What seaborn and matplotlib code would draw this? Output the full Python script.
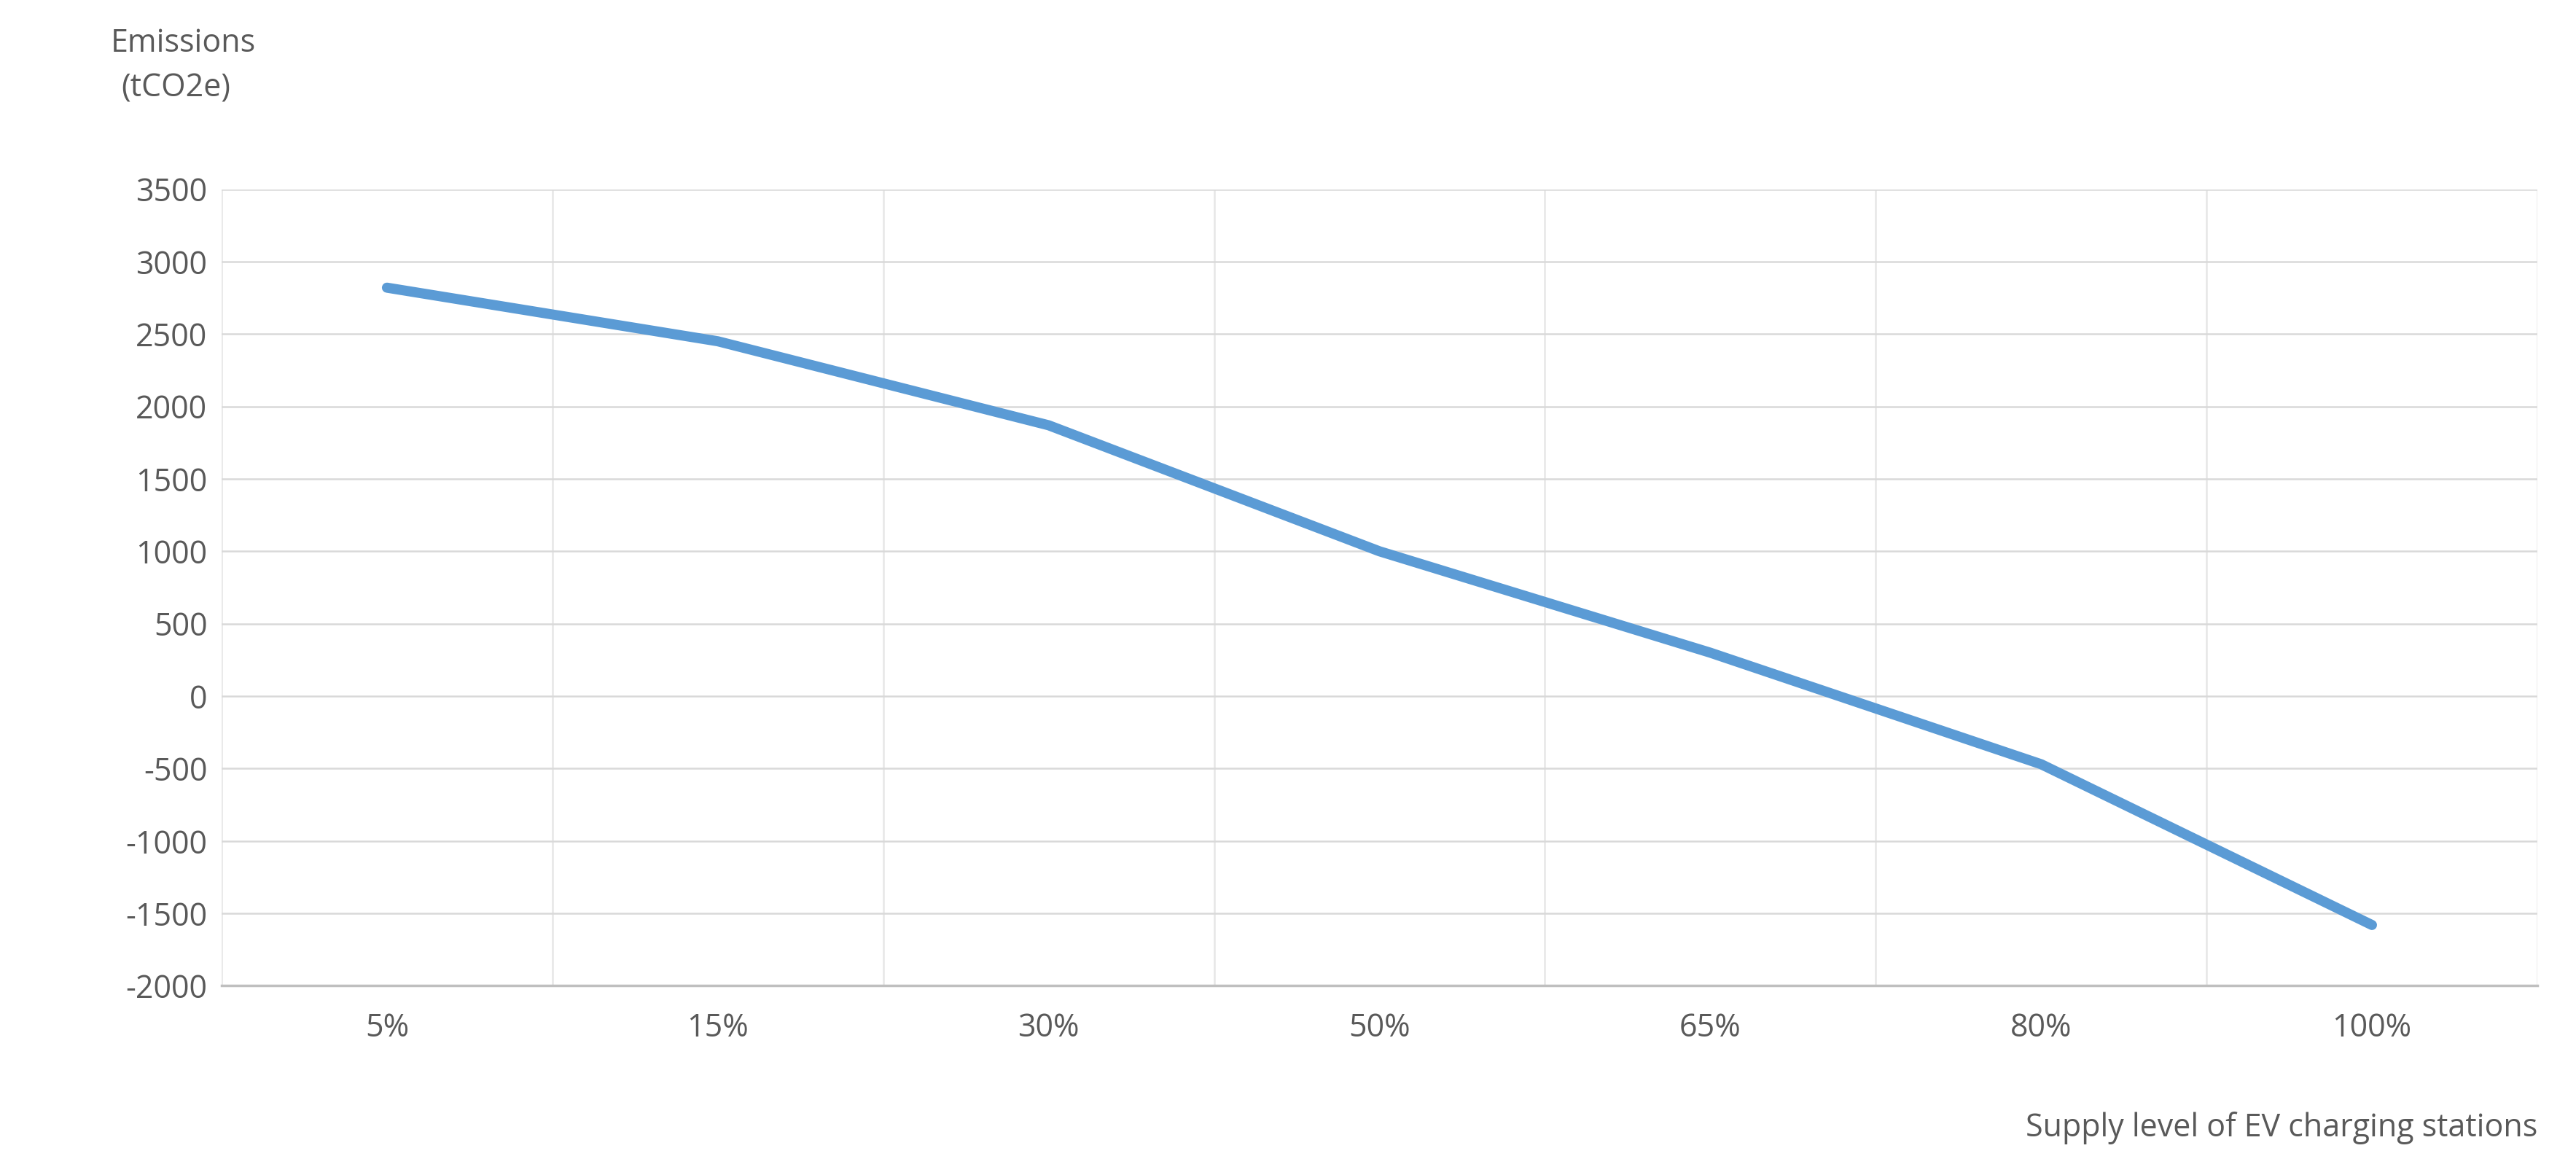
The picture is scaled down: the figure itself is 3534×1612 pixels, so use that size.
import matplotlib
matplotlib.use("Agg")
import matplotlib.pyplot as plt
import seaborn as sns
import pandas as pd
import numpy as np

categories = ["5%", "15%", "30%", "50%", "65%", "80%", "100%"]
emissions = [2820, 2450, 1870, 1000, 300, -470, -1580]

sns.set_style("white")
plt.rcParams['font.family'] = ['Open Sans', 'DejaVu Sans']
plt.rcParams['axes.unicode_minus'] = False
df = pd.DataFrame({"x": np.arange(len(categories)), "y": emissions})

fig = plt.figure(figsize=(35.34, 16.12), dpi=100)
ax = fig.add_axes([0.086, 0.161, 0.899, 0.678])
sns.lineplot(data=df, x="x", y="y", ax=ax, color="#5B9BD5", linewidth=10,
             solid_capstyle="round", solid_joinstyle="round", zorder=3)
ax.set_xlim(-0.5, len(categories) - 0.5)
ax.set_ylim(-2000, 3500)
ax.set_yticks(np.arange(-2000, 3501, 500))
ax.set_xticks(np.arange(len(categories)))
ax.set_xticklabels(categories)
ax.set_xticks(np.arange(-0.5, len(categories), 0.5), minor=True)
ax.grid(True, axis="y", color="#D9D9D9", linewidth=1.8)
ax.grid(True, axis="x", which="minor", color="#E6E6E6", linewidth=1.8)
ax.tick_params(axis="both", which="both", length=0, labelsize=31, colors="#595959")
ax.tick_params(axis="x", pad=26)
ax.tick_params(axis="y", pad=14)
for s in ["top", "right", "left"]:
    ax.spines[s].set_visible(False)
ax.spines["bottom"].set_color("#BFBFBF")
ax.spines["bottom"].set_linewidth(2.5)
ax.set_xlabel("")
ax.set_ylabel("")
fig.text(0.043, 0.963, "Emissions", fontsize=31, color="#595959", va="center")
fig.text(0.047, 0.925, "(tCO2e)", fontsize=31, color="#595959", va="center")
fig.text(0.985, 0.04, "Supply level of EV charging stations", fontsize=31,
         color="#595959", ha="right", va="center")
fig.savefig("out.png", dpi=100)
